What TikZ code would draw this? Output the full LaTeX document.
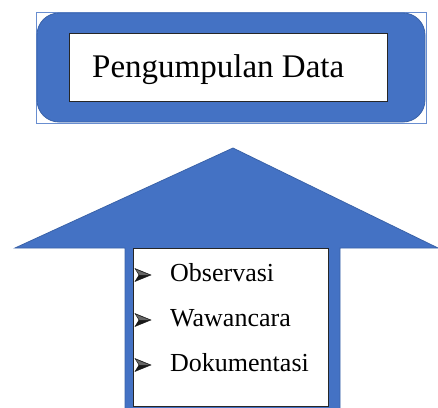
\documentclass[tikz,border=0pt]{standalone}
\usepackage{fontspec}
\setmainfont{Liberation Serif}
\definecolor{officeblue}{HTML}{4472C4}
\definecolor{darkblue}{HTML}{3A62A8}
\begin{document}
\begin{tikzpicture}[x=1pt,y=-1pt,
  bluefill/.style={fill=officeblue,draw=darkblue,line width=0.8pt},
  whitebox/.style={fill=white,draw=black!85,line width=0.8pt},
  item/.style={anchor=base west,inner sep=0pt,font=\fontsize{26}{30}\selectfont},
  arrowbullet/.pic={
    \filldraw[black!90,line width=0.4pt,line join=miter] (0,-12.5) -- (16,-6) -- (0,0.5) -- (4,-6) -- cycle;
    \fill[black!60] (0.8,-11.5) -- (14.5,-6) -- (4.6,-6) -- cycle;}]
\useasboundingbox (0,0) rectangle (438,407);
% top frame
\draw[draw=officeblue!80,line width=0.5pt] (36,12) rectangle (426,123);
\draw[bluefill,rounded corners=22pt] (37,13) rectangle (425,122);
\draw[whitebox] (69,33) rectangle (387,101);
\node[anchor=base west,inner sep=0pt,font=\fontsize{33}{38}\selectfont] (title) at (92,77) {Pengumpulan Data};
% arrow
\path[bluefill] (233,148) -- (438,248) -- (340,248) -- (340,409) -- (125,409) -- (125,248) -- (15,248) -- cycle;
\draw[whitebox] (133,248) rectangle (328,406);
\pic at (135,281) {arrowbullet};
\pic at (135,326) {arrowbullet};
\pic at (135,371) {arrowbullet};
\node[item] (i1) at (170,281) {Observasi};
\node[item] (i2) at (170,326) {Wawancara};
\node[item] (i3) at (170,371) {Dokumentasi};
\end{tikzpicture}
\end{document}
